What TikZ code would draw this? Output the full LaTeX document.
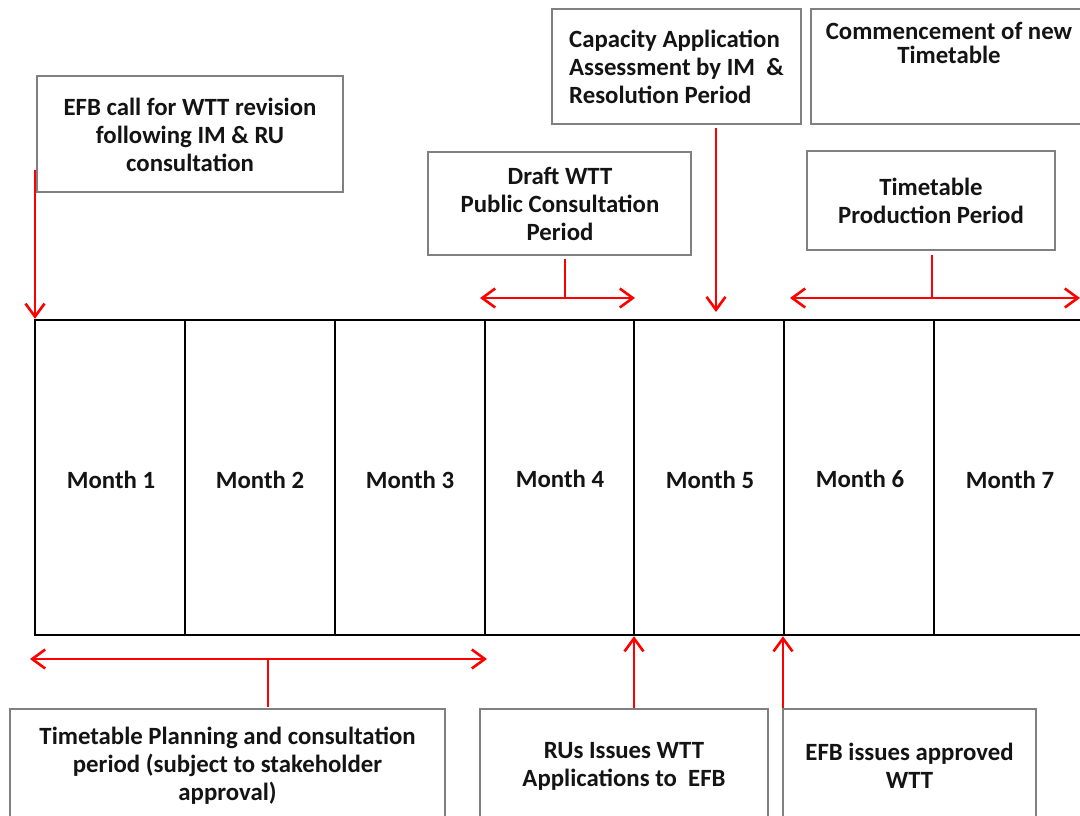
\documentclass[tikz,border=0pt]{standalone}
\usepackage{fontspec}
\setmainfont{Carlito}
\usetikzlibrary{arrows.meta}
\definecolor{boxgray}{RGB}{128,128,128}
\definecolor{arrred}{RGB}{255,0,0}
\definecolor{txtcol}{RGB}{20,20,20}
\begin{document}
\begin{tikzpicture}[x=1pt,y=-1pt,
 box/.style={draw=boxgray, line width=1.8pt, inner sep=0pt, fill=white},
 txt/.style={font=\bfseries\fontsize{24.8}{28}\selectfont, align=center, inner sep=0pt, text=txtcol},
 cell/.style={draw=black, line width=2.4pt, minimum height=315pt, inner sep=0pt},
 mlabel/.style={font=\bfseries\fontsize{24.8}{28}\selectfont, inner sep=0pt, text=txtcol},
 redarr/.style={draw=arrred, line width=2.6pt, -{Straight Barb[length=13pt,width=19pt]}},
 redboth/.style={draw=arrred, line width=2.6pt, {Straight Barb[length=13pt,width=19pt]}-{Straight Barb[length=13pt,width=19pt]}},
 redline/.style={draw=arrred, line width=2.6pt}]
\useasboundingbox (0,0) rectangle (1080,815);
\clip (0,0) rectangle (1080,815);
\fill[white] (0,0) rectangle (1080,815);

% month strip
\node[cell, minimum width=150pt] (m1) at (110,477.5) {};
\node[cell, minimum width=150pt] (m2) at (260,477.5) {};
\node[cell, minimum width=150pt] (m3) at (410,477.5) {};
\node[cell, minimum width=149pt] (m4) at (559.5,477.5) {};
\node[cell, minimum width=150pt] (m5) at (709,477.5) {};
\node[cell, minimum width=150pt] (m6) at (859,477.5) {};
\node[cell, minimum width=150pt] (m7) at (1009,477.5) {};
\node[mlabel] (l1) at (111,480) {Month 1};
\node[mlabel] (l2) at (260,480) {Month 2};
\node[mlabel] (l3) at (410,480) {Month 3};
\node[mlabel] (l4) at (560,479) {Month 4};
\node[mlabel] (l5) at (710,480) {Month 5};
\node[mlabel] (l6) at (860,479) {Month 6};
\node[mlabel] (l7) at (1010,480) {Month 7};

% top boxes
\node[box, minimum width=306pt, minimum height=116pt] (efb) at (190,134) {};
\node[txt] (efbt) at (190,135) {EFB call for WTT revision\\following IM \& RU\\consultation};

\node[box, minimum width=263pt, minimum height=103pt] (draft) at (559.5,203.5) {};
\node[txt] (draftt) at (560,204) {Draft WTT\\Public Consultation\\Period};

\node[box, minimum width=249pt, minimum height=115pt] (cap) at (676.5,66.5) {};
\node[txt, align=left, anchor=west] (capt) at (569,67) {Capacity Application\\Assessment by IM~~\&\\Resolution Period};

\node[box, minimum width=279pt, minimum height=115pt] (comm) at (950.5,66.5) {};
\node[txt, font=\bfseries\fontsize{24.8}{24}\selectfont] (commt) at (949,43) {Commencement of new\\Timetable};

\node[box, minimum width=248pt, minimum height=99pt] (prod) at (931,200.5) {};
\node[txt] (prodt) at (931,201) {Timetable\\Production Period};

% bottom boxes
\node[box, minimum width=435pt, minimum height=121pt] (plan) at (227.5,769.5) {};
\node[txt] (plant) at (227.5,766) {Timetable Planning and consultation\\period (subject to stakeholder\\approval)};

\node[box, minimum width=288pt, minimum height=121pt] (rus) at (624,769.5) {};
\node[txt] (rust) at (624,766.5) {RUs Issues WTT\\Applications to~~EFB};

\node[box, minimum width=253pt, minimum height=121pt] (efbi) at (909.5,769.5) {};
\node[txt] (efbit) at (909.5,766) {EFB issues approved\\WTT};

% connector coordinates
\coordinate (efbA) at (35,170);
\coordinate (capA) at (716,128);
\coordinate (capB) at (716,312);
\coordinate (draftA) at (565,259);
\coordinate (draftB) at (565,298);
\coordinate (draftL) at (480,298);
\coordinate (draftR) at (635,298);
\coordinate (prodA) at (932,255);
\coordinate (prodB) at (932,298);
\coordinate (prodL) at (790,298);
\coordinate (prodR) at (1080,298);
\coordinate (planA) at (268,707);
\coordinate (planB) at (268,659);
\coordinate (planL) at (30,659);
\coordinate (planR) at (487,659);
\coordinate (rusA) at (634,708);
\coordinate (efbiA) at (783,708);

% connectors
\draw[redarr] (efbA) -- (efbA |- m1.north west);
\draw[redarr] (capA) -- (capB);
\draw[redline] (draftA) -- (draftB);
\draw[redboth] (draftL) -- (draftR);
\draw[redline] (prodA) -- (prodB);
\draw[redboth] (prodL) -- (prodR);
\draw[redline] (planA) -- (planB);
\draw[redboth] (planL) -- (planR);
\draw[redarr] (rusA) -- (rusA |- m4.south east);
\draw[redarr] (efbiA) -- (efbiA |- m6.south west);
\end{tikzpicture}
\end{document}
